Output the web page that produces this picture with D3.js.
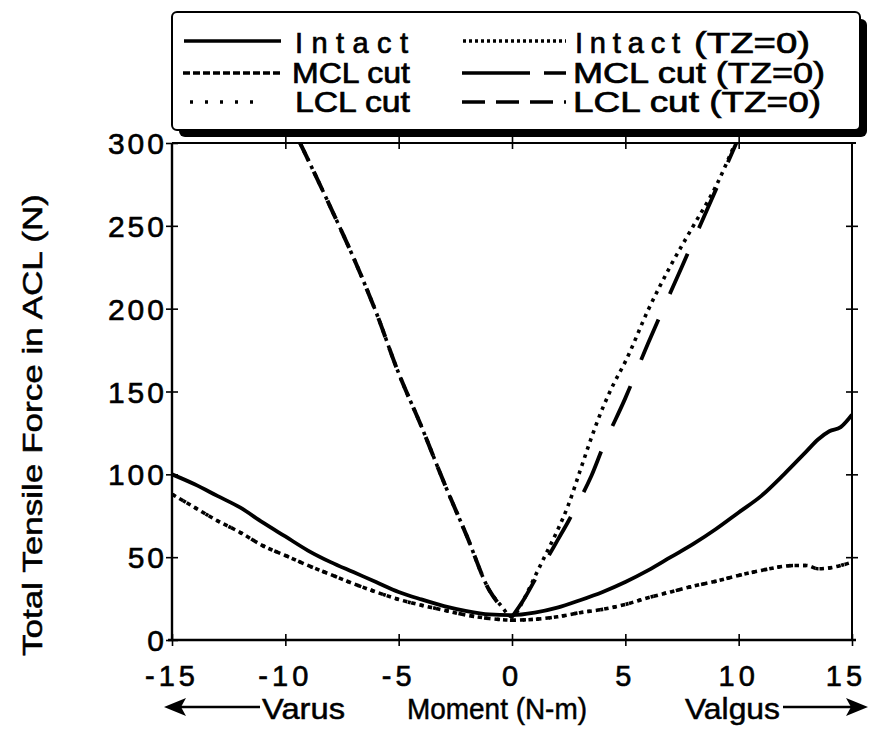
<!DOCTYPE html>
<html>
<head>
<meta charset="utf-8">
<script src="https://cdn.jsdelivr.net/npm/d3@7"></script>
<style>
  body { margin: 0; background: #fff; }
  svg { display: block; font-family: "Liberation Sans", Arial, Helvetica, sans-serif; }
</style>
</head>
<body>
<svg id="chart" width="877" height="738"></svg>
<script>
// ---- data ----
const xTicks = [-15, -10, -5, 0, 5, 10, 15];
const yTicks = [0, 50, 100, 150, 200, 250, 300];
const xTickLabels = ["-15", "-10", "-5", "0", "5", "10", "15"];

const intactX = [-15, -14, -13, -12, -11, -10, -9, -8, -7, -6, -5, -4, -3, -2, -1, 0, 1, 2, 3, 4, 5, 6, 7, 8, 9, 10, 11, 12, 13, 13.5, 14, 14.5, 15];
const intactY = [100, 94, 87, 80, 71, 62.5, 54, 47, 41, 35, 29, 24.5, 20.5, 17.5, 15.5, 15, 16.5, 19.5, 24, 29, 35, 42, 50, 58, 67, 77, 87, 100, 114, 121, 126, 128.5, 136];

const mclCutX = [-15, -14, -13, -12, -11, -10, -9, -8, -7, -6, -5, -4, -3, -2, -1, 0, 1, 2, 3, 4, 5, 6, 7, 8, 9, 10, 11, 12, 12.5, 13, 13.5, 14, 14.5, 15];
const mclCutY = [88, 80, 72, 65, 57, 51, 45, 39.5, 34, 29, 24.5, 21, 18, 15, 13, 12, 12.5, 14, 16.5, 18.5, 21.5, 25.5, 29, 32.5, 35.5, 39, 42, 44.5, 45, 45, 43, 43.5, 45, 47];

const lclCutX = [-15, -14, -13, -12, -11, -10, -9, -8, -7, -6, -5, -4, -3, -2, -1, 0, 1, 2, 3, 4, 5, 6, 7, 8, 9, 10, 11, 12, 12.5, 13, 13.5, 14, 14.5, 15];
const lclCutY = [88, 80, 72, 65, 57, 51, 45, 39.5, 34, 29, 24.5, 21, 18, 15, 13, 12, 12.5, 14, 16.5, 18.5, 21.5, 25.5, 29, 32.5, 35.5, 39, 42, 44.5, 45, 45, 43, 43.5, 45, 47];

const intactTzX = [-9.35, -8, -7, -6, -5, -4, -3, -2, -1, -0.5, 0, 0.5, 1, 1.5, 2, 2.5, 3, 3.5, 4, 4.5, 5, 6, 7, 8, 9, 9.85];
const intactTzY = [300, 261, 231, 198, 161, 129, 95, 63, 30, 21, 14, 24, 38, 52, 66, 82, 102, 122, 140, 155, 168, 199, 226, 250, 274, 300];

const mclCutTzX = [0, 0.5, 1, 1.5, 2, 2.5, 3, 3.5, 4, 5, 6, 7, 8, 9, 9.9];
const mclCutTzY = [14, 24, 36, 48, 60, 72, 85, 99, 116, 146, 179, 210, 241, 272, 300];

const lclCutTzX = [-9.35, -8, -7, -6, -5, -4, -3, -2, -1, -0.6];
const lclCutTzY = [300, 261, 231, 198, 161, 129, 95, 63, 30, 22];

const legendNames = ["Intact", "MCL cut", "LCL cut", "Intact  (TZ=0)", "MCL cut (TZ=0)", "LCL cut (TZ=0)"];

// ---- layout ----
const svg = d3.select("#chart");
const plotL = 172, plotR = 852, plotT = 143, plotB = 640;

const x = d3.scaleLinear().domain([-15, 15]).range([plotL, plotR]);
const y = d3.scaleLinear().domain([0, 300]).range([plotB, plotT]);

const series = [
    { xs: intactX, ys: intactY, dash: null, width: 3.8 },
    { xs: lclCutX, ys: lclCutY, dash: "3,10", width: 3.6 },
    { xs: mclCutX, ys: mclCutY, dash: "4.5,4", width: 3.6 },
    { xs: intactTzX, ys: intactTzY, dash: "3.5,5", width: 3.6 },
    { xs: mclCutTzX, ys: mclCutTzY, dash: "44,28", width: 3.8 },
    { xs: lclCutTzX, ys: lclCutTzY, dash: "20,12", width: 4 }
];

const line = d3.line()
    .x(d => x(d[0]))
    .y(d => y(d[1]))
    .curve(d3.curveMonotoneX);

svg.append("defs").append("clipPath").attr("id", "plot")
    .append("rect").attr("x", plotL).attr("y", plotT - 2).attr("width", plotR - plotL).attr("height", plotB - plotT + 2);

// curves
const gLines = svg.append("g").attr("clip-path", "url(#plot)");
series.forEach(s => {
    gLines.append("path")
        .datum(s.xs.map((v, i) => [v, s.ys[i]]))
        .attr("d", line)
        .attr("fill", "none")
        .attr("stroke", "#000")
        .attr("stroke-width", s.width)
        .attr("stroke-dasharray", s.dash)
        .attr("stroke-linejoin", "round");
});

// axes with cross ticks
function crossTicks(g, horiz) {
    g.select(".domain").remove();
    g.selectAll(".tick text").remove();
    g.selectAll(".tick line")
        .attr("stroke", "#000").attr("stroke-width", 1.6)
        .attr(horiz ? "y1" : "x1", -6).attr(horiz ? "y2" : "x2", 6);
}

svg.append("g").attr("transform", `translate(0,${plotB})`)
    .call(d3.axisBottom(x).tickValues(xTicks).tickSize(6))
    .call(g => crossTicks(g, true));
svg.append("g").attr("transform", `translate(0,${plotT})`)
    .call(d3.axisTop(x).tickValues(xTicks.slice(1, -1)).tickSize(6))
    .call(g => crossTicks(g, true));
svg.append("g").attr("transform", `translate(${plotL},0)`)
    .call(d3.axisLeft(y).tickValues(yTicks).tickSize(6))
    .call(g => crossTicks(g, false));
svg.append("g").attr("transform", `translate(${plotR},0)`)
    .call(d3.axisRight(y).tickValues(yTicks.slice(1, -1)).tickSize(6))
    .call(g => crossTicks(g, false));

// frame
svg.append("line").attr("x1", plotL - 4).attr("x2", plotR + 4).attr("y1", plotB).attr("y2", plotB)
    .attr("stroke", "#000").attr("stroke-width", 2.6);
svg.append("line").attr("x1", plotL).attr("x2", plotL).attr("y1", plotT).attr("y2", plotB)
    .attr("stroke", "#000").attr("stroke-width", 2.4);
svg.append("line").attr("x1", plotL).attr("x2", plotR + 4).attr("y1", plotT).attr("y2", plotT)
    .attr("stroke", "#000").attr("stroke-width", 2);
svg.append("line").attr("x1", plotR).attr("x2", plotR).attr("y1", plotT).attr("y2", plotB)
    .attr("stroke", "#000").attr("stroke-width", 2);

// tick labels
svg.append("g").selectAll("text").data(yTicks).join("text")
    .attr("x", plotL - 5)
    .attr("y", d => y(d) + 11)
    .attr("text-anchor", "end")
    .attr("font-size", 30)
    .attr("letter-spacing", 3)
    .attr("stroke", "#000").attr("stroke-width", 0.6)
    .text(d => d);

svg.append("g").selectAll("text").data(xTicks).join("text")
    .attr("x", d => x(d) + (d === 15 ? -6 : 0))
    .attr("y", plotB + 46)
    .attr("text-anchor", "middle")
    .attr("font-size", 29)
    .attr("letter-spacing", 4)
    .attr("stroke", "#000").attr("stroke-width", 0.6)
    .text((d, i) => xTickLabels[i]);

// y axis title
svg.append("text")
    .attr("transform", "translate(42,425) rotate(-90)")
    .attr("text-anchor", "middle")
    .attr("font-size", 28)
    .attr("textLength", 462)
    .attr("lengthAdjust", "spacingAndGlyphs")
    .attr("stroke", "#000").attr("stroke-width", 0.5)
    .text("Total Tensile Force in ACL (N)");

// x axis title with arrows
const xt = svg.append("g").attr("font-size", 30).attr("stroke", "#000").attr("stroke-width", 0.5);
xt.append("text").attr("x", 262).attr("y", 719).attr("textLength", 83).attr("lengthAdjust", "spacingAndGlyphs").text("Varus");
xt.append("text").attr("x", 407).attr("y", 719).attr("textLength", 180).attr("lengthAdjust", "spacingAndGlyphs").text("Moment (N-m)");
xt.append("text").attr("x", 685).attr("y", 719).attr("textLength", 95).attr("lengthAdjust", "spacingAndGlyphs").text("Valgus");

svg.append("line").attr("x1", 180).attr("x2", 260).attr("y1", 707).attr("y2", 707).attr("stroke", "#000").attr("stroke-width", 2.5);
svg.append("path").attr("d", "M164,707 L186,698 L181,707 L186,716 Z").attr("fill", "#000");
svg.append("line").attr("x1", 783).attr("x2", 852).attr("y1", 707).attr("y2", 707).attr("stroke", "#000").attr("stroke-width", 2.5);
svg.append("path").attr("d", "M868,707 L846,698 L851,707 L846,716 Z").attr("fill", "#000");

// legend box with drop shadow
const lg = svg.append("g");
lg.append("rect").attr("x", 179).attr("y", 19).attr("width", 688).attr("height", 118).attr("rx", 6).attr("fill", "#000");
lg.append("rect").attr("x", 172).attr("y", 12).attr("width", 688).attr("height", 118).attr("rx", 5)
    .attr("fill", "#fff").attr("stroke", "#000").attr("stroke-width", 2);

// each label is split in parts so the wide gaps of the original survive
const legendRows = [
    { parts: [[legendNames[0], 295, 113, "spacing"]], x1: 184, x2: 281, ly: 41, ty: 43, dash: null },
    { parts: [[legendNames[1], 292, 118, "spacingAndGlyphs"]], x1: 183, x2: 283, ly: 73, ty: 73, dash: "7,3" },
    { parts: [[legendNames[2], 295, 115, "spacingAndGlyphs"]], x1: 190, x2: 264, ly: 102, ty: 102, dash: "3,12" },
    { parts: legendNames[3].split("  ").map((t, i) => i === 0 ? [t, 575, 105, "spacing"] : [t, 694, 116, "spacingAndGlyphs"]),
      x1: 463, x2: 566, ly: 41, ty: 43, dash: "3,3" },
    { parts: [[legendNames[4], 573, 252, "spacingAndGlyphs"]], x1: 462, x2: 566, ly: 73, ty: 73, dash: "68,14,22" },
    { parts: [[legendNames[5], 573, 248, "spacingAndGlyphs"]], x1: 462, x2: 566, ly: 102, ty: 102, dash: "23,11" }
];

legendRows.forEach(r => {
    lg.append("line").attr("x1", r.x1).attr("x2", r.x2).attr("y1", r.ly).attr("y2", r.ly)
        .attr("stroke", "#000").attr("stroke-width", 3.4).attr("stroke-dasharray", r.dash);
    r.parts.forEach(([t, tx, tw, adj]) => {
        lg.append("text").attr("x", tx).attr("y", r.ty + 10)
            .attr("font-size", 29)
            .attr("textLength", tw).attr("lengthAdjust", adj)
            .attr("stroke", "#000").attr("stroke-width", 0.7)
            .text(t);
    });
});
</script>
</body>
</html>
